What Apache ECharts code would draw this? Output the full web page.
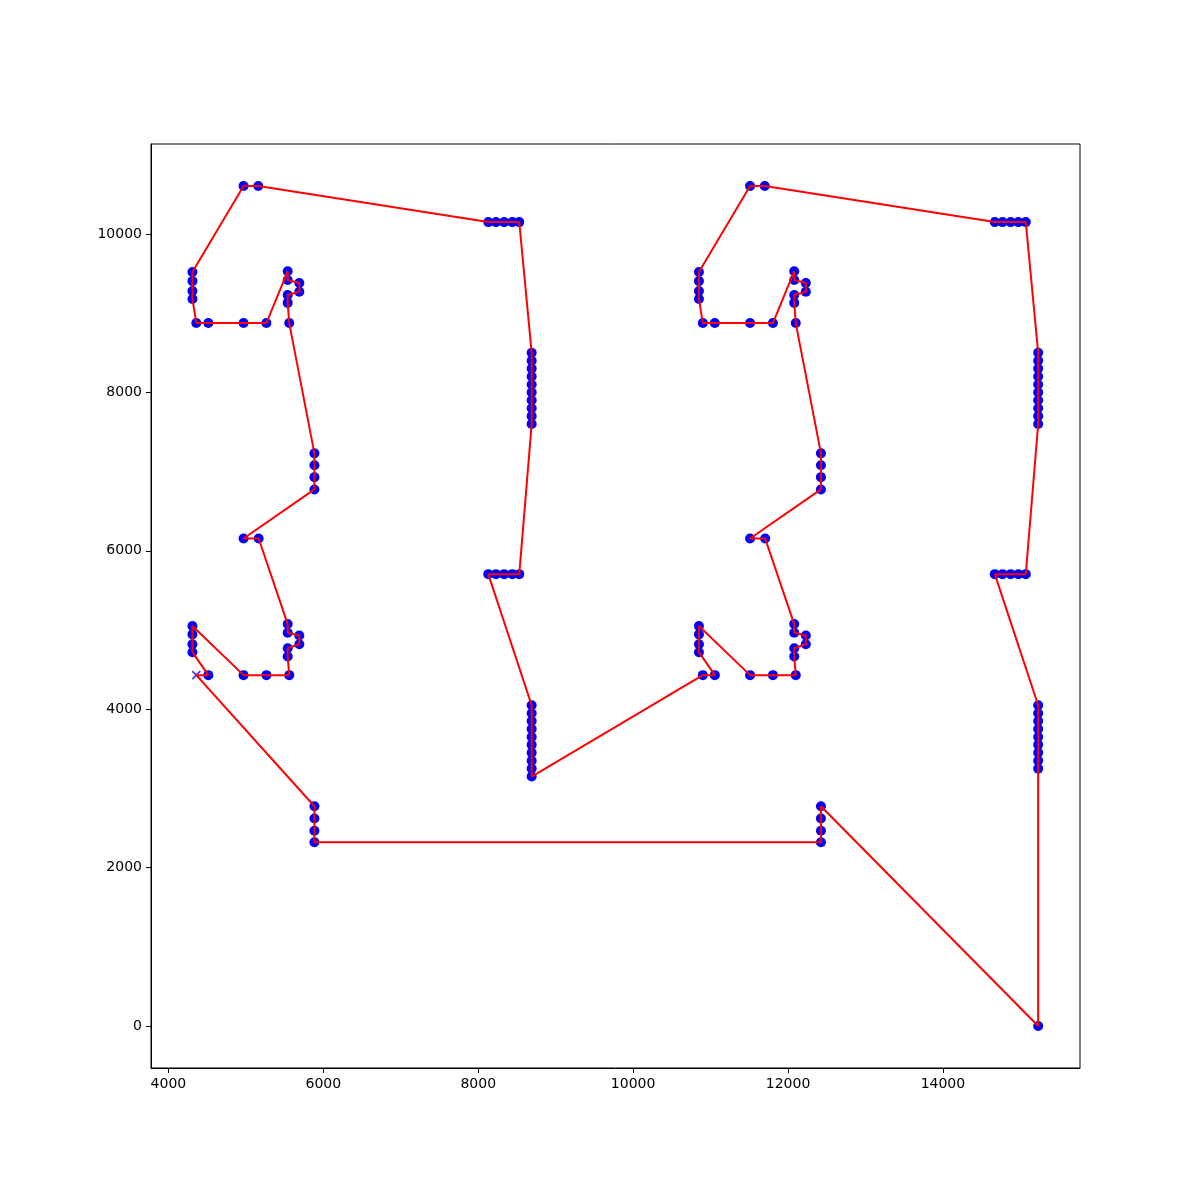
<!DOCTYPE html>
<html>
<head>
<meta charset="utf-8">
<script src="https://cdn.jsdelivr.net/npm/echarts@6/dist/echarts.min.js"></script>
<style>html,body{margin:0;padding:0;background:#fff;}#c{width:1200px;height:1200px;}</style>
</head>
<body>
<div id="c"></div>
<script>
// Tour order (start city first, marked with an "x")
const tourX = [
  4360, 4515, 4310, 4310, 4310, 4310, 4970, 5265, 5560,
  5540, 5540, 5690, 5690, 5540, 5540, 5165, 4970,
  5885, 5885, 5885, 5885, 5560,
  5540, 5540, 5690, 5690, 5540, 5540, 5265, 4970, 4515, 4360,
  4310, 4310, 4310, 4310, 4970, 5160,
  8130, 8230, 8335, 8440, 8530,
  8690, 8690, 8690, 8690, 8690, 8690, 8690, 8690, 8690, 8690,
  8530, 8440, 8335, 8230, 8130,
  8690, 8690, 8690, 8690, 8690, 8690, 8690, 8690, 8690, 8690,
  10900, 11055, 10850, 10850, 10850, 10850, 11510, 11805, 12100,
  12080, 12080, 12230, 12230, 12080, 12080, 11705, 11510,
  12425, 12425, 12425, 12425, 12100,
  12080, 12080, 12230, 12230, 12080, 12080, 11805, 11510, 11055, 10900,
  10850, 10850, 10850, 10850, 11510, 11700,
  14670, 14770, 14875, 14975, 15070,
  15230, 15230, 15230, 15230, 15230, 15230, 15230, 15230, 15230, 15230,
  15070, 14975, 14875, 14770, 14670,
  15230, 15230, 15230, 15230, 15230, 15230, 15230, 15230, 15230,
  15230,
  12425, 12425, 12425, 12425,
  5885, 5885, 5885, 5885
];
const tourY = [
  4430, 4430, 4720, 4820, 4945, 5050, 4430, 4430, 4430,
  4665, 4770, 4820, 4930, 4965, 5075, 6155, 6155,
  6775, 6930, 7080, 7230, 8875,
  9130, 9230, 9270, 9380, 9420, 9530, 8875, 8875, 8875, 8875,
  9180, 9280, 9405, 9520, 10605, 10605,
  10150, 10150, 10150, 10150, 10150,
  8500, 8400, 8300, 8200, 8100, 8000, 7900, 7800, 7700, 7600,
  5705, 5705, 5705, 5705, 5705,
  4050, 3950, 3850, 3750, 3650, 3550, 3450, 3350, 3250, 3150,
  4430, 4430, 4720, 4820, 4945, 5050, 4430, 4430, 4430,
  4665, 4770, 4820, 4930, 4965, 5075, 6155, 6155,
  6775, 6930, 7080, 7230, 8875,
  9130, 9230, 9270, 9380, 9420, 9530, 8875, 8875, 8875, 8875,
  9180, 9280, 9405, 9520, 10605, 10605,
  10150, 10150, 10150, 10150, 10150,
  8500, 8400, 8300, 8200, 8100, 8000, 7900, 7800, 7700, 7600,
  5705, 5705, 5705, 5705, 5705,
  4050, 3950, 3850, 3750, 3650, 3550, 3450, 3350, 3250,
  0,
  2775, 2620, 2465, 2320,
  2320, 2465, 2620, 2775
];
const xTicks = [4000, 6000, 8000, 10000, 12000, 14000];
const yTicks = [0, 2000, 4000, 6000, 8000, 10000];

const tour = tourX.map((x, i) => [x, tourY[i]]);
const route = tour.concat([tour[0]]);
const cities = tour.slice(1);
const start = [tour[0]];

const chart = echarts.init(document.getElementById('c'), null, {renderer: 'canvas'});
const axisCommon = {
  type: 'value',
  splitLine: {show: false},
  axisLine: {show: true, onZero: false, lineStyle: {color: '#000', width: 1}},
  axisTick: {show: true, inside: false, length: 5, lineStyle: {color: '#000', width: 1}},
  axisLabel: {color: '#000', fontSize: 14, fontFamily: 'DejaVu Sans', margin: 9, formatter: v => String(v)}
};
chart.setOption({
  animation: false,
  backgroundColor: '#fff',
  grid: {left: 151, top: 144, right: 120, bottom: 132, show: true, borderColor: '#000', borderWidth: 1, containLabel: false},
  xAxis: Object.assign({}, axisCommon, {
    min: 3775, max: 15770,
    axisTick: Object.assign({}, axisCommon.axisTick, {customValues: xTicks}),
    axisLabel: Object.assign({}, axisCommon.axisLabel, {customValues: xTicks})
  }),
  yAxis: Object.assign({}, axisCommon, {
    min: -530, max: 11136,
    axisTick: Object.assign({}, axisCommon.axisTick, {customValues: yTicks}),
    axisLabel: Object.assign({}, axisCommon.axisLabel, {customValues: yTicks})
  }),
  series: [
    {
      type: 'scatter', data: cities, symbol: 'circle', symbolSize: 10,
      itemStyle: {color: '#0000ff', opacity: 1}, z: 2, silent: true
    },
    {
      type: 'scatter', data: start, symbol: 'path://M0,0L10,10M0,10L10,0', symbolSize: 8,
      itemStyle: {color: 'none', borderColor: '#0000ff', borderWidth: 1.5}, z: 3, silent: true
    },
    {
      type: 'line', data: route, showSymbol: false, symbol: 'none',
      lineStyle: {color: '#ff0000', width: 2}, z: 4, silent: true
    }
  ]
});
</script>
</body>
</html>
